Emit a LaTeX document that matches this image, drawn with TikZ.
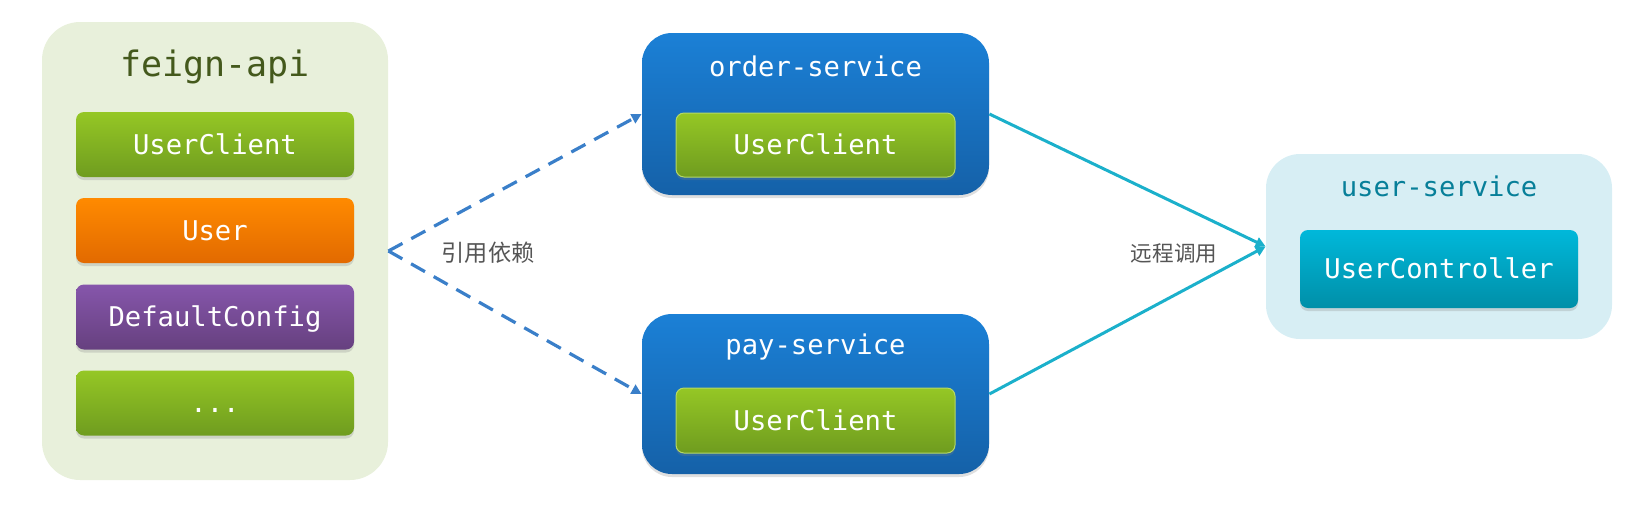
\documentclass[tikz,border=0pt]{standalone}
\usepackage{fontspec}
\newfontfamily\monof{DejaVu Sans Mono}
\newfontfamily\cjk{Noto Sans CJK SC}
\usetikzlibrary{shadows,arrows.meta}
\definecolor{feignbg}{HTML}{E8F0DB}
\definecolor{feigntitle}{HTML}{44591C}
\definecolor{gtop}{HTML}{95C725}
\definecolor{gbot}{HTML}{6F9C1F}
\definecolor{otop}{HTML}{FF8A00}
\definecolor{obot}{HTML}{E26A00}
\definecolor{ptop}{HTML}{8656AB}
\definecolor{pbot}{HTML}{66407F}
\definecolor{btop}{HTML}{1B80D6}
\definecolor{bbot}{HTML}{1561A8}
\definecolor{userbg}{HTML}{D7EEF4}
\definecolor{usertitle}{HTML}{077F99}
\definecolor{ctop}{HTML}{00B8DA}
\definecolor{cbot}{HTML}{008FA8}
\definecolor{dashblue}{HTML}{3A7FC9}
\definecolor{linecyan}{HTML}{1BB0CB}
\definecolor{labelgray}{HTML}{555555}
\tikzset{
  myshadow/.style={drop shadow={shadow xshift=0pt,shadow yshift=-1.5pt,opacity=0.25}},
  outerbox/.style={rounded corners=19pt, inner sep=0pt},
  svcbox/.style={rounded corners=15pt, inner sep=0pt, top color=btop, bottom color=bbot, myshadow},
  item/.style={rounded corners=4pt, inner sep=0pt, minimum width=139pt, minimum height=32.5pt,
     text=white, font=\monof\fontsize{13.6}{16}\selectfont, text height=9.9pt, text depth=0pt, myshadow},
  greenitem/.style={item, top color=gtop, bottom color=gbot},
  title/.style={font=\monof\fontsize{13.6}{16}\selectfont, inner sep=0pt},
  lbl/.style={font=\cjk\fontsize{11.6}{14}\selectfont, text=labelgray, inner sep=0pt},
  dep/.style={draw=dashblue, line width=1.6pt, dash pattern=on 8pt off 5pt, -{Triangle[length=5pt,width=5pt]}},
  call/.style={draw=linecyan, line width=1.5pt, -{Triangle[length=5pt,width=5pt]}}
}
\begin{document}
\begin{tikzpicture}[x=0.5pt,y=-0.5pt]
\useasboundingbox (0,0) rectangle (1638,510);
% feign-api
\node[outerbox, fill=feignbg, minimum width=173pt, minimum height=229pt] (feign) at (215,251) {};
\node[title, font=\monof\fontsize{17.5}{20}\selectfont, text=feigntitle] (feignt) at (215,67) {feign-api};
\node[greenitem] (fuc) at (215,144.5) {UserClient};
\node[item, top color=otop, bottom color=obot] (fuser) at (215,230.5) {User};
\node[item, top color=ptop, bottom color=pbot] (fdc) at (215,317) {DefaultConfig};
\node[greenitem] (fdots) at (215,403) {...};
% order-service
\node[svcbox, minimum width=173.5pt, minimum height=81pt] (order) at (815.5,114) {};
\node[title, text=white] (ordert) at (815.5,66) {order-service};
\node[greenitem, draw=gtop!70!white, line width=0.5pt, minimum width=139.5pt, minimum height=32pt] (ouc) at (815.5,145) {UserClient};
% pay-service
\node[svcbox, minimum width=173.5pt, minimum height=80pt] (pay) at (815.5,394) {};
\node[title, text=white] (payt) at (815.5,347) {pay-service};
\node[greenitem, draw=gtop!70!white, line width=0.5pt, minimum width=139.5pt, minimum height=32.5pt] (puc) at (815.5,420.5) {UserClient};
% user-service
\node[outerbox, rounded corners=17pt, fill=userbg, minimum width=173pt, minimum height=92.5pt] (user) at (1439,246.5) {};
\node[title, text=usertitle] (usert) at (1439,186) {user-service};
\node[item, top color=ctop, bottom color=cbot, minimum height=39pt] (uctl) at (1439,269) {UserController};
% connectors
\draw[dep] (feign.east) -- (order.west);
\draw[dep] (feign.east) -- (pay.west);
\draw[call] (order.east) -- (user.west);
\draw[call] (pay.east) -- (user.west);
\node[lbl] (deplbl) at (488,253) {引用依赖};
\node[lbl, font=\cjk\fontsize{10.8}{13}\selectfont] (calllbl) at (1174,253) {远程调用};
\end{tikzpicture}
\end{document}
